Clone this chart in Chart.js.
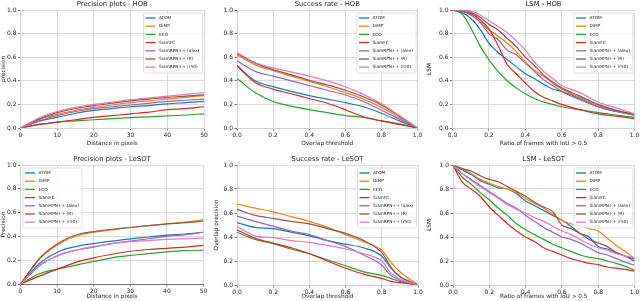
<!DOCTYPE html>
<html>
<head>
<meta charset="UTF-8">
<script src="https://cdn.jsdelivr.net/npm/chart.js@4"></script>
<style>
  html, body { margin: 0; padding: 0; background: #fff; }
  #fig { position: relative; width: 640px; height: 301px; overflow: hidden; background: #fff; }
  #fig canvas { position: absolute; }
</style>
</head>
<body>
<div id="fig">
  <canvas id="c1"></canvas>
  <canvas id="c2"></canvas>
  <canvas id="c3"></canvas>
  <canvas id="c4"></canvas>
  <canvas id="c5"></canvas>
  <canvas id="c6"></canvas>
</div>
<script>
// trackers, same order in every panel
const methods = ['ATOM', 'DiMP', 'ECO', 'SiamFC', 'SiamRPN++ (alex)', 'SiamRPN++ (R)', 'SiamRPN++ (r50)'];
const colors = ['#1f77b4', '#ff7f0e', '#2ca02c', '#d62728', '#9467bd', '#8c564b', '#e377c2'];

// tick labels
const distTicks = [0, 10, 20, 30, 40, 50];
const unitTicks = [0, 0.2, 0.4, 0.6, 0.8, 1.0];

// Precision plots - HOB
const precHobX = [0, 2.5, 5, 7.5, 10, 15, 20, 25, 30, 35, 40, 45, 50];
const precHobY = [
  [0, 0.03, 0.055, 0.075, 0.09, 0.125, 0.15, 0.165, 0.18, 0.19, 0.205, 0.215, 0.225],
  [0, 0.035, 0.07, 0.095, 0.115, 0.15, 0.175, 0.195, 0.215, 0.23, 0.245, 0.26, 0.275],
  [0, 0.015, 0.03, 0.04, 0.05, 0.06, 0.07, 0.08, 0.088, 0.095, 0.103, 0.11, 0.12],
  [0, 0.015, 0.03, 0.04, 0.05, 0.07, 0.09, 0.105, 0.12, 0.135, 0.155, 0.165, 0.18],
  [0, 0.03, 0.06, 0.085, 0.105, 0.14, 0.165, 0.18, 0.195, 0.21, 0.225, 0.235, 0.245],
  [0, 0.04, 0.075, 0.105, 0.13, 0.165, 0.19, 0.21, 0.23, 0.245, 0.26, 0.27, 0.28],
  [0, 0.045, 0.085, 0.115, 0.14, 0.175, 0.2, 0.22, 0.24, 0.255, 0.27, 0.285, 0.3]
];

// Success rate - HOB
const succHobX = [0, 0.1, 0.2, 0.3, 0.4, 0.5, 0.6, 0.7, 0.8, 0.9, 1.0];
const succHobY = [
  [0.53, 0.40, 0.35, 0.31, 0.275, 0.245, 0.215, 0.18, 0.125, 0.06, 0],
  [0.62, 0.535, 0.485, 0.44, 0.395, 0.35, 0.30, 0.245, 0.175, 0.09, 0],
  [0.42, 0.30, 0.225, 0.185, 0.155, 0.13, 0.105, 0.09, 0.06, 0.035, 0],
  [0.525, 0.385, 0.33, 0.29, 0.25, 0.21, 0.155, 0.095, 0.06, 0.03, 0],
  [0.57, 0.48, 0.44, 0.40, 0.36, 0.32, 0.28, 0.225, 0.15, 0.075, 0],
  [0.63, 0.55, 0.495, 0.45, 0.405, 0.365, 0.32, 0.265, 0.195, 0.1, 0],
  [0.64, 0.555, 0.51, 0.475, 0.44, 0.40, 0.35, 0.285, 0.205, 0.105, 0]
];

// LSM - HOB
const lsmHobX = [0, 0.05, 0.1, 0.15, 0.2, 0.25, 0.3, 0.35, 0.4, 0.45, 0.5, 0.55, 0.6, 0.7, 0.8, 0.9, 1.0];
const lsmHobY = [
  [1.0, 0.98, 0.93, 0.84, 0.72, 0.64, 0.58, 0.52, 0.46, 0.42, 0.37, 0.33, 0.31, 0.25, 0.18, 0.14, 0.11],
  [1.0, 0.99, 0.96, 0.90, 0.83, 0.78, 0.72, 0.65, 0.56, 0.49, 0.44, 0.38, 0.33, 0.26, 0.19, 0.15, 0.115],
  [1.0, 0.97, 0.85, 0.70, 0.58, 0.48, 0.40, 0.34, 0.29, 0.25, 0.22, 0.20, 0.18, 0.155, 0.13, 0.11, 0.09],
  [1.0, 0.99, 0.97, 0.92, 0.84, 0.70, 0.54, 0.46, 0.38, 0.31, 0.26, 0.23, 0.20, 0.155, 0.12, 0.10, 0.08],
  [1.0, 0.99, 0.96, 0.90, 0.80, 0.75, 0.66, 0.62, 0.55, 0.48, 0.41, 0.36, 0.31, 0.24, 0.18, 0.14, 0.11],
  [1.0, 1.0, 0.98, 0.94, 0.88, 0.83, 0.76, 0.69, 0.60, 0.53, 0.45, 0.39, 0.34, 0.27, 0.20, 0.15, 0.115],
  [1.0, 1.0, 0.99, 0.96, 0.91, 0.86, 0.81, 0.74, 0.66, 0.56, 0.48, 0.42, 0.36, 0.30, 0.22, 0.17, 0.12]
];

// Precision plots - LeSOT
const precLesotX = [0, 5.5, 11, 16, 20, 25, 30, 35, 40, 45, 50];
const precLesotY = [
  [0, 0.18, 0.28, 0.32, 0.34, 0.36, 0.38, 0.395, 0.41, 0.42, 0.435],
  [0, 0.22, 0.345, 0.41, 0.435, 0.455, 0.475, 0.49, 0.505, 0.52, 0.54],
  [0, 0.09, 0.13, 0.165, 0.19, 0.22, 0.24, 0.255, 0.27, 0.28, 0.285],
  [0, 0.07, 0.135, 0.19, 0.22, 0.25, 0.275, 0.29, 0.30, 0.31, 0.325],
  [0, 0.16, 0.25, 0.29, 0.31, 0.34, 0.36, 0.38, 0.40, 0.415, 0.435],
  [0, 0.225, 0.355, 0.42, 0.44, 0.46, 0.475, 0.49, 0.505, 0.515, 0.53],
  [0, 0.165, 0.245, 0.29, 0.315, 0.34, 0.355, 0.365, 0.375, 0.38, 0.385]
];

// Success rate - LeSOT
const succLesotX = [0, 0.1, 0.2, 0.3, 0.4, 0.5, 0.6, 0.7, 0.8, 0.85, 0.9, 1.0];
const succLesotY = [
  [0.52, 0.48, 0.47, 0.44, 0.41, 0.37, 0.34, 0.31, 0.24, 0.14, 0.07, 0],
  [0.675, 0.64, 0.61, 0.57, 0.53, 0.48, 0.42, 0.36, 0.29, 0.19, 0.11, 0],
  [0.44, 0.38, 0.345, 0.30, 0.26, 0.21, 0.16, 0.11, 0.08, 0.055, 0.03, 0],
  [0.46, 0.39, 0.35, 0.31, 0.26, 0.20, 0.14, 0.09, 0.055, 0.03, 0.02, 0],
  [0.575, 0.53, 0.49, 0.45, 0.42, 0.37, 0.32, 0.25, 0.165, 0.08, 0.04, 0],
  [0.63, 0.58, 0.555, 0.53, 0.51, 0.47, 0.43, 0.37, 0.27, 0.15, 0.07, 0],
  [0.49, 0.41, 0.395, 0.37, 0.355, 0.33, 0.30, 0.26, 0.20, 0.10, 0.05, 0]
];

// LSM - LeSOT
const lsmLesotX = [0, 0.05, 0.1, 0.15, 0.2, 0.25, 0.3, 0.35, 0.4, 0.45, 0.5, 0.55, 0.6, 0.65, 0.7, 0.75, 0.8, 0.85, 0.9, 0.95, 1.0];
const lsmLesotY = [
  [1.0, 0.96, 0.92, 0.87, 0.84, 0.81, 0.80, 0.76, 0.70, 0.66, 0.62, 0.58, 0.54, 0.49, 0.43, 0.40, 0.32, 0.30, 0.27, 0.24, 0.20],
  [1.0, 0.97, 0.93, 0.88, 0.85, 0.82, 0.80, 0.77, 0.72, 0.68, 0.64, 0.59, 0.54, 0.51, 0.49, 0.47, 0.45, 0.39, 0.33, 0.28, 0.22],
  [1.0, 0.90, 0.84, 0.77, 0.71, 0.64, 0.58, 0.51, 0.46, 0.42, 0.38, 0.34, 0.31, 0.28, 0.25, 0.23, 0.22, 0.20, 0.18, 0.155, 0.125],
  [1.0, 0.86, 0.80, 0.74, 0.65, 0.58, 0.51, 0.45, 0.40, 0.36, 0.31, 0.28, 0.25, 0.22, 0.20, 0.18, 0.17, 0.15, 0.14, 0.13, 0.115],
  [1.0, 0.93, 0.88, 0.83, 0.78, 0.73, 0.68, 0.64, 0.58, 0.53, 0.48, 0.44, 0.40, 0.38, 0.35, 0.31, 0.27, 0.25, 0.22, 0.19, 0.165],
  [1.0, 0.97, 0.95, 0.91, 0.88, 0.86, 0.82, 0.78, 0.74, 0.69, 0.65, 0.61, 0.50, 0.47, 0.43, 0.38, 0.35, 0.32, 0.27, 0.24, 0.22],
  [1.0, 0.93, 0.87, 0.82, 0.77, 0.72, 0.67, 0.63, 0.60, 0.56, 0.53, 0.49, 0.45, 0.42, 0.38, 0.34, 0.31, 0.29, 0.26, 0.24, 0.23]
];

const FONT = '"DejaVu Sans", sans-serif';
const GRID = '#cfcfcf';
const INK = '#262626';

// panel title, drawn above the plot area
const panelTitle = {
  id: 'panelTitle',
  afterDraw(chart, args, opts) {
    const { ctx, chartArea } = chart;
    ctx.save();
    ctx.font = '6.8px ' + FONT;
    ctx.fillStyle = INK;
    ctx.textAlign = 'center';
    ctx.textBaseline = 'middle';
    ctx.fillText(opts.text, (chartArea.left + chartArea.right) / 2, opts.y);
    ctx.restore();
  }
};

// matplotlib-like legend box inside the plot area
const boxLegend = {
  id: 'boxLegend',
  afterDatasetsDraw(chart, args, opts) {
    const { ctx, chartArea } = chart;
    const w = 59, h = 60;
    const x = opts.side === 'left' ? chartArea.left + 2 : chartArea.right - 2 - w;
    const y = chartArea.top + 2.5;
    ctx.save();
    ctx.fillStyle = 'rgba(255,255,255,0.85)';
    ctx.strokeStyle = '#d8d8d8';
    ctx.lineWidth = 0.8;
    ctx.beginPath();
    ctx.roundRect(x + 0.5, y + 0.5, w, h, 1.5);
    ctx.fill();
    ctx.stroke();
    ctx.font = '4.3px ' + FONT;
    ctx.textBaseline = 'middle';
    chart.data.datasets.forEach((ds, i) => {
      const ry = y + 5.5 + i * 8.2;
      ctx.strokeStyle = ds.borderColor;
      ctx.lineWidth = 1.3;
      ctx.beginPath();
      ctx.moveTo(x + 2.5, ry);
      ctx.lineTo(x + 12.5, ry);
      ctx.stroke();
      ctx.fillStyle = INK;
      ctx.fillText(ds.label, x + 16, ry);
    });
    ctx.restore();
  }
};

const fmtUnit = v => Number(v).toFixed(1);
const fmtInt = v => String(v);

const panels = [
  { id: 'c1', box: [0, 0, 213, 150], area: [20.5, 10, 204, 128], title: 'Precision plots - HOB', titleY: 4,
    xs: precHobX, ys: precHobY, xMax: 50, xTicks: distTicks, xFmt: fmtInt,
    xTitle: 'Distance in pixels', yTitle: 'precision', legend: 'right', xTitlePad: 3.5 },
  { id: 'c2', box: [213, 0, 213, 150], area: [237, 10, 417.5, 128], title: 'Success rate - HOB', titleY: 4,
    xs: succHobX, ys: succHobY, xMax: 1, xTicks: unitTicks, xFmt: fmtUnit,
    xTitle: 'Overlap threshold', yTitle: '', legend: 'right', xTitlePad: 3.5 },
  { id: 'c3', box: [426, 0, 214, 150], area: [452.5, 10, 634.5, 128], title: 'LSM - HOB', titleY: 4,
    xs: lsmHobX, ys: lsmHobY, xMax: 1, xTicks: unitTicks, xFmt: fmtUnit,
    xTitle: 'Ratio of frames with IoU > 0.5', yTitle: 'LSM', legend: 'right', xTitlePad: 3.5 },
  { id: 'c4', box: [0, 150, 213, 151], area: [20.5, 165, 203.5, 284], title: 'Precision plots - LeSOT', titleY: 9,
    xs: precLesotX, ys: precLesotY, xMax: 50, xTicks: distTicks, xFmt: fmtInt,
    xTitle: 'Distance in pixels', yTitle: 'Precision', legend: 'left', xTitlePad: 1.5, darkBase: true },
  { id: 'c5', box: [213, 150, 213, 151], area: [237, 165, 418, 285], title: 'Success rate - LeSOT', titleY: 9,
    xs: succLesotX, ys: succLesotY, xMax: 1, xTicks: unitTicks, xFmt: fmtUnit,
    xTitle: 'Overlap threshold', yTitle: 'Overlap precision', legend: 'right', xTitlePad: 1.5 },
  { id: 'c6', box: [426, 150, 214, 151], area: [453, 165, 634.5, 285], title: 'LSM - LeSOT', titleY: 9,
    xs: lsmLesotX, ys: lsmLesotY, xMax: 1, xTicks: unitTicks, xFmt: fmtUnit,
    xTitle: 'Ratio of frames with IoU > 0.5', yTitle: 'LSM', legend: 'right', xTitlePad: 1.5 }
];

function makePanel(p) {
  const [bl, bt, bw, bh] = p.box;
  const [al, at, ar, ab] = p.area;
  const cv = document.getElementById(p.id);
  cv.width = bw;
  cv.height = bh;
  cv.style.left = bl + 'px';
  cv.style.top = bt + 'px';

  const yAxisW = al - bl;
  const xAxisH = bt + bh - ab;

  const datasets = methods.map((m, i) => ({
    label: m,
    data: p.xs.map((x, k) => ({ x: x, y: p.ys[i][k] })),
    borderColor: colors[i],
    backgroundColor: colors[i],
    borderWidth: 1.2,
    pointRadius: 0,
    fill: false,
    cubicInterpolationMode: 'monotone',
    order: methods.length - i
  }));

  const tickFont = { family: FONT, size: 6 };
  const titleFont = { family: FONT, size: 5.8, lineHeight: 1.2 };

  return new Chart(cv, {
    type: 'line',
    data: { datasets },
    options: {
      responsive: false,
      animation: false,
      events: [],
      layout: { padding: { left: 0, top: at - bt, right: bl + bw - ar, bottom: 0 } },
      plugins: {
        legend: { display: false },
        tooltip: { enabled: false },
        panelTitle: { text: p.title, y: p.titleY },
        boxLegend: { side: p.legend }
      },
      scales: {
        x: {
          type: 'linear', min: 0, max: p.xMax,
          afterBuildTicks: s => { s.ticks = p.xTicks.map(v => ({ value: v })); },
          afterFit: s => { s.height = xAxisH; s.paddingLeft = 0; s.paddingRight = 0; },
          ticks: { font: tickFont, color: INK, padding: 1.5, maxRotation: 0, autoSkip: false, callback: p.xFmt },
          grid: { color: GRID, lineWidth: 0.8, tickLength: 2.5, tickColor: '#555' },
          border: { color: p.darkBase ? '#555' : GRID, width: 0.8 },
          title: { display: true, text: p.xTitle, font: titleFont, color: INK, padding: { top: 0, bottom: p.xTitlePad } }
        },
        y: {
          type: 'linear', min: 0, max: 1,
          afterBuildTicks: s => { s.ticks = unitTicks.map(v => ({ value: v })); },
          afterFit: s => { s.width = yAxisW; s.paddingTop = 0; s.paddingBottom = 0; },
          ticks: { font: tickFont, color: INK, padding: 1.5, callback: fmtUnit },
          grid: { color: GRID, lineWidth: 0.8, tickLength: 2.5, tickColor: '#555' },
          border: { color: GRID, width: 0.8 },
          title: { display: !!p.yTitle, text: p.yTitle, font: titleFont, color: INK, padding: { top: 0, bottom: 0 } }
        }
      }
    },
    plugins: [panelTitle, boxLegend]
  });
}

panels.forEach(makePanel);
</script>
</body>
</html>
